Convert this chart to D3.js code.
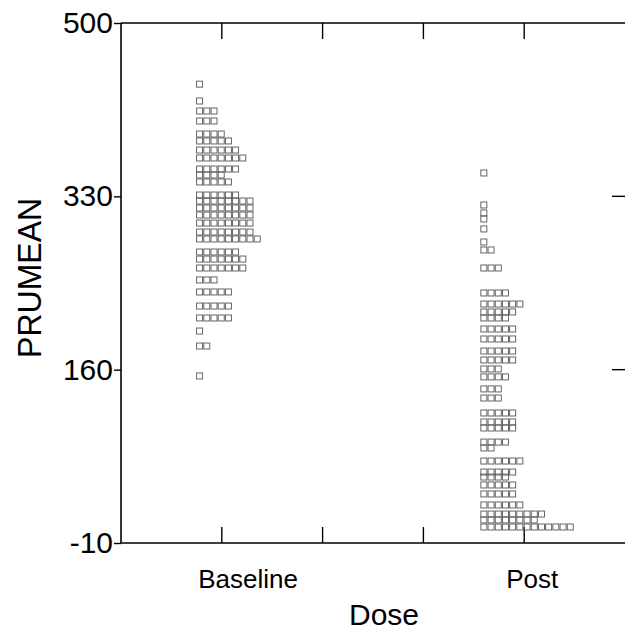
<!DOCTYPE html>
<html>
<head>
<meta charset="utf-8">
<script src="https://cdn.jsdelivr.net/npm/d3@7"></script>
<style>
  body { margin: 0; background: #fff; }
  text { font-family: "Liberation Sans", Arial, sans-serif; fill: #000; }
</style>
</head>
<body>
<svg id="chart"></svg>
<script>
// categories and where each sits on the x scale (domain units)
const doses = ["Baseline", "Post"];
const dosePos = [1.26, 4.08];
const yTicks = [-10, 160, 330, 500];
const xTicks = [1, 2, 3, 4];

// dot-density rows: PRUMEAN level of the row and number of cases in it
const baselineLevels = [440, 423.5, 413.7, 403.9, 391.1, 384.3, 375.4, 367.6, 356.8, 350.9,
    344.1, 331.3, 325.4, 318.6, 311.7, 303.8, 295, 288.2, 275.4, 268.5,
    259.7, 248, 236.2, 222.4, 210.7, 197.9, 183.2, 153.8];
const baselineCounts = [1, 1, 3, 3, 4, 5, 6, 7, 6, 4,
    5, 6, 8, 8, 8, 8, 8, 9, 6, 7,
    7, 3, 5, 5, 5, 1, 2, 1];

const postLevels = [352.9, 321.5, 313.7, 307.8, 298, 285.2, 277.4, 259.7, 235.2, 224.4,
    216.6, 210.7, 199.9, 190.1, 178.3, 169.5, 160.7, 152.9, 141.1, 132.2,
    117.5, 108.7, 102.8, 89, 83.2, 70.4, 59.6, 54.7, 46.9, 38.1,
    27.3, 18.4, 12.6, 5.7];
const postCounts = [1, 1, 1, 1, 1, 1, 2, 3, 4, 6,
    5, 4, 5, 5, 5, 5, 3, 4, 3, 3,
    5, 5, 5, 4, 2, 6, 5, 4, 5, 5,
    6, 9, 8, 13];

const width = 625, height = 630;
const margin = {top: 23, right: 0, bottom: 87, left: 121};
const plotW = width - margin.left - margin.right;
const plotH = height - margin.top - margin.bottom;

const svg = d3.select("#chart").attr("width", width).attr("height", height);
const g = svg.append("g").attr("transform", `translate(${margin.left},${margin.top})`);

const x = d3.scaleLinear().domain([0, 5]).range([0, plotW]);
const y = d3.scaleLinear().domain([-10, 500]).range([plotH, 0]);

// frame: left, top and bottom lines, no right line
g.append("line").attr("x1", 0).attr("x2", 0).attr("y1", 0).attr("y2", plotH)
    .attr("stroke", "#000").attr("stroke-width", 1.6);
g.append("line").attr("x1", 0).attr("x2", plotW).attr("y1", 0).attr("y2", 0)
    .attr("stroke", "#000").attr("stroke-width", 1.6);
g.append("line").attr("x1", 0).attr("x2", plotW).attr("y1", plotH).attr("y2", plotH)
    .attr("stroke", "#000").attr("stroke-width", 1.6);

// y axis on the left, outward ticks
const yAxis = g.append("g")
    .call(d3.axisLeft(y).tickValues(yTicks).tickSize(7).tickPadding(1).tickFormat(d => String(d)));
yAxis.select(".domain").remove();
yAxis.selectAll(".tick line").attr("stroke", "#000").attr("stroke-width", 1.4);
yAxis.selectAll(".tick text")
    .style("font-size", "30px")
    .style("font-family", "'Liberation Sans', Arial, sans-serif");

// right side ticks (inward)
g.selectAll(".rtick")
    .data([160, 330])
    .join("line")
    .attr("class", "rtick")
    .attr("x1", plotW - 13).attr("x2", plotW)
    .attr("y1", d => y(d)).attr("y2", d => y(d))
    .attr("stroke", "#000").attr("stroke-width", 1.4);

// top and bottom inward ticks
g.selectAll(".ttick")
    .data(xTicks)
    .join("line")
    .attr("class", "ttick")
    .attr("x1", d => x(d)).attr("x2", d => x(d))
    .attr("y1", 0).attr("y2", 16)
    .attr("stroke", "#000").attr("stroke-width", 1.4);
g.selectAll(".btick")
    .data(xTicks)
    .join("line")
    .attr("class", "btick")
    .attr("x1", d => x(d)).attr("x2", d => x(d))
    .attr("y1", plotH - 16).attr("y2", plotH)
    .attr("stroke", "#000").attr("stroke-width", 1.4);

// category labels
g.selectAll(".cat")
    .data(doses)
    .join("text")
    .attr("class", "cat")
    .attr("x", (d, i) => x(dosePos[i]))
    .attr("y", plotH + 45)
    .attr("text-anchor", "middle")
    .style("font-size", "26px")
    .text(d => d);

// axis titles
g.append("text")
    .attr("x", 263).attr("y", plotH + 82)
    .attr("text-anchor", "middle")
    .style("font-size", "30px")
    .text("Dose");

svg.append("text")
    .attr("transform", `translate(41, ${margin.top + y(250)}) rotate(-90)`)
    .attr("text-anchor", "middle")
    .attr("textLength", 160)
    .attr("lengthAdjust", "spacingAndGlyphs")
    .style("font-size", "33px")
    .text("PRUMEAN");

// stacked open squares
const step = 7.2, boxW = 6, boxH = 6, offset = 0.51;
const groups = [
    {levels: baselineLevels, counts: baselineCounts, pos: dosePos[0]},
    {levels: postLevels, counts: postCounts, pos: dosePos[1]}
];
const boxes = [];
groups.forEach(gr => {
    gr.levels.forEach((lv, i) => {
        for (let k = 0; k < gr.counts[i]; k++) {
            boxes.push({level: lv, k: k, pos: gr.pos});
        }
    });
});

g.append("g").selectAll("rect")
    .data(boxes)
    .join("rect")
    .attr("x", d => x(d.pos - offset) + d.k * step)
    .attr("y", d => y(d.level) - boxH / 2)
    .attr("width", boxW)
    .attr("height", boxH)
    .attr("fill", "none")
    .attr("stroke", "#555")
    .attr("stroke-width", 0.9);
</script>
</body>
</html>
